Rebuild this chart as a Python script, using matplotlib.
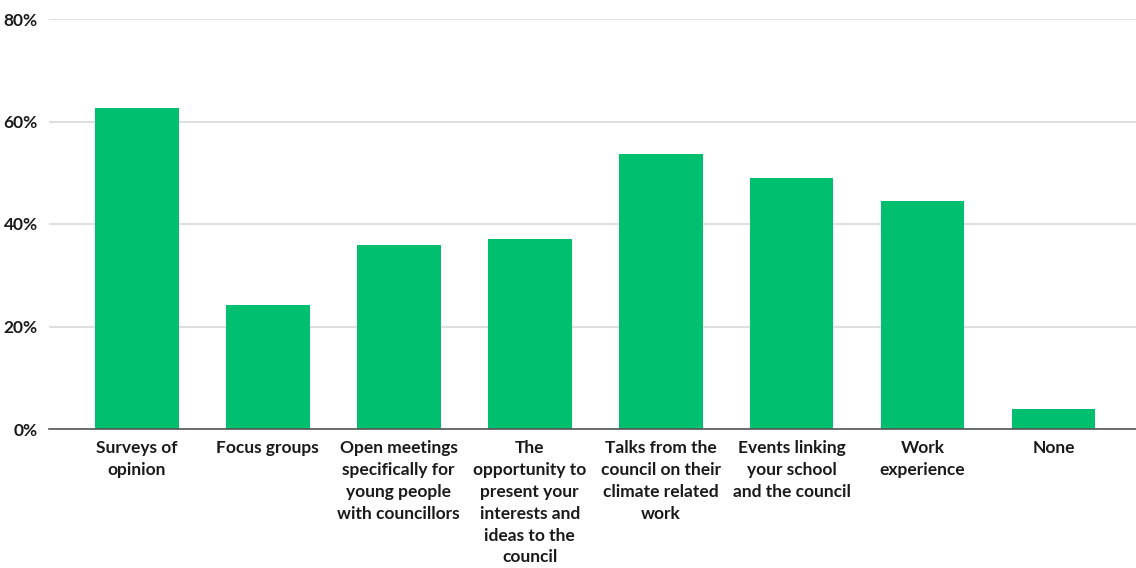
import matplotlib

matplotlib.use("Agg")

import matplotlib.pyplot as plt
from matplotlib.ticker import FuncFormatter

categories = [
    "Surveys of\nopinion",
    "Focus groups",
    "Open meetings\nspecifically for\nyoung people\nwith councillors",
    "The\nopportunity to\npresent your\ninterests and\nideas to the\ncouncil",
    "Talks from the\ncouncil on their\nclimate related\nwork",
    "Events linking\nyour school\nand the council",
    "Work\nexperience",
    "None",
]
values = [62.6, 24.1, 36.0, 37.0, 53.6, 49.0, 44.4, 4.0]
y_ticks = [0, 20, 40, 60, 80]

GREEN = "#00BF6F"

plt.rcParams["font.family"] = ["Lato", "DejaVu Sans"]

fig = plt.figure(figsize=(11.36, 5.68), dpi=100)
ax = fig.add_axes([49 / 1136, 139 / 568, (1136 - 49) / 1136, 410 / 568])

x = list(range(len(categories)))
ax.bar(x, values, width=0.64, color=GREEN, zorder=3)

ax.set_xlim(-0.67, 7.63)
ax.set_ylim(0, 80)
ax.set_yticks(y_ticks)
ax.yaxis.set_major_formatter(FuncFormatter(lambda v, _: f"{v:.0f}%"))
ax.grid(axis="y", color="#D9D9D9", linewidth=1.2, zorder=0)

ax.set_xticks(x)
ax.set_xticklabels(categories, fontsize=12.5, fontweight="bold", color="#1A1A1A",
                   linespacing=1.45, va="top")
for lbl in ax.get_yticklabels():
    lbl.set_fontsize(12.5)
    lbl.set_fontweight("bold")
    lbl.set_color("#1A1A1A")

ax.tick_params(axis="both", length=0)
ax.tick_params(axis="x", pad=8)
ax.tick_params(axis="y", pad=8)

for side in ["top", "right", "left"]:
    ax.spines[side].set_visible(False)
ax.spines["bottom"].set_color("#555555")
ax.spines["bottom"].set_linewidth(1.2)
ax.spines["bottom"].set_zorder(4)

fig.savefig("out.png", dpi=100)
